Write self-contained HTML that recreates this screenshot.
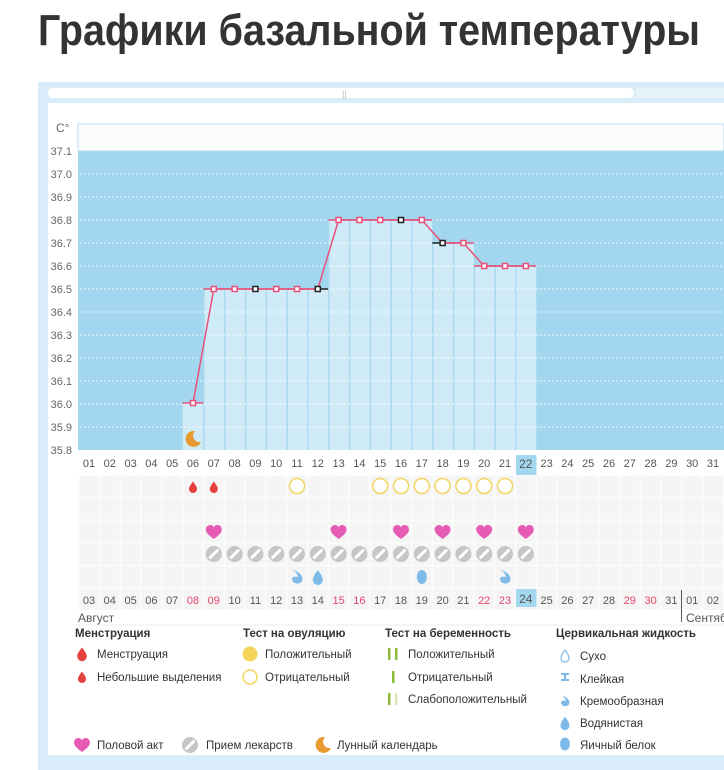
<!DOCTYPE html>
<html><head><meta charset="utf-8"><style>
html,body{margin:0;padding:0;background:#fff;width:724px;height:770px;overflow:hidden}
svg{display:block}
text{font-family:"Liberation Sans","DejaVu Sans",sans-serif}
</style></head><body>
<svg width="724" height="770" viewBox="0 0 724 770" xmlns="http://www.w3.org/2000/svg">
<defs>
<pattern id="cells" x="78.6" y="475" width="20.8" height="22.6" patternUnits="userSpaceOnUse">
<rect x="0" y="0" width="20.8" height="22.6" fill="#fcfcfc"/>
<rect x="0.8" y="0.8" width="19.2" height="21" fill="#f5f5f5"/>
</pattern>
<path id="drop" d="M0,-5.5 C2.5,-2 4,0 4,2 A4,4 0 0 1 -4,2 C-4,0 -2.5,-2 0,-5.5Z"/>
<path id="heart" d="M0,7 C-4,4 -8,1 -8,-2.5 C-8,-5.5 -5.5,-7 -3.5,-7 C-2,-7 -0.7,-6 0,-4.8 C0.7,-6 2,-7 3.5,-7 C5.5,-7 8,-5.5 8,-2.5 C8,1 4,4 0,7Z" fill="#e65cb4"/>
<g id="pill"><circle r="8" fill="#c6c6c6"/><line x1="-3.5" y1="3.5" x2="3.5" y2="-3.5" stroke="#fff" stroke-width="3" stroke-linecap="round"/></g>
<path id="moon" d="M2,-8 A8,8 0 1 0 8,3 A6.5,6.5 0 0 1 2,-8Z" fill="#e79a2f"/>
<path id="cream" d="M-4,-7 C3,-5 7,0 5,4 C3,8 -5,7 -5,2 C-5,0 -2,-1 1,0 C1,-2 -1,-5 -4,-7Z" fill="#7fbbe8"/>
<path id="water" d="M0,-7 C3,-3 5,0 5,3 A5,5 0 0 1 -5,3 C-5,0 -3,-3 0,-7Z" fill="#7fbbe8"/>
</defs>

<text x="38" y="45" font-size="44" font-weight="bold" fill="#333" textLength="662" lengthAdjust="spacingAndGlyphs">Графики базальной температуры</text>

<rect x="38" y="82" width="686" height="688" fill="#d8edf9"/>
<rect x="48" y="88" width="586" height="10" rx="5" fill="#fff"/>
<rect x="636" y="88" width="88" height="10" fill="#e6f3fb"/>
<text x="342" y="97" font-size="9" fill="#bbb">||</text>
<rect x="48" y="103" width="676" height="652" fill="#fff"/>

<rect x="78" y="124" width="646" height="27" fill="#fcfcfc" stroke="#b9e0f3" stroke-width="1"/>
<rect x="78" y="151" width="646" height="299" fill="#a3d7ef"/>
<g fill="#d0ebf8">
<rect x="182.6" y="403" width="20.8" height="47"/>
<rect x="203.4" y="289" width="124.8" height="161"/>
<rect x="328.2" y="220" width="104" height="230"/>
<rect x="432.2" y="243" width="41.6" height="207"/>
<rect x="473.8" y="266" width="62.4" height="184"/>
</g>
<g stroke="#aad9ef" stroke-width="1.5">
<line x1="204" y1="289" x2="204" y2="450"/><line x1="224.8" y1="289" x2="224.8" y2="450"/>
<line x1="245.6" y1="289" x2="245.6" y2="450"/><line x1="266.4" y1="289" x2="266.4" y2="450"/>
<line x1="287.2" y1="289" x2="287.2" y2="450"/><line x1="308" y1="289" x2="308" y2="450"/>
<line x1="328.8" y1="220" x2="328.8" y2="450"/><line x1="349.6" y1="220" x2="349.6" y2="450"/>
<line x1="370.4" y1="220" x2="370.4" y2="450"/><line x1="391.2" y1="220" x2="391.2" y2="450"/>
<line x1="412" y1="220" x2="412" y2="450"/><line x1="432.8" y1="243" x2="432.8" y2="450"/>
<line x1="453.6" y1="243" x2="453.6" y2="450"/><line x1="474.4" y1="266" x2="474.4" y2="450"/>
<line x1="495.2" y1="266" x2="495.2" y2="450"/><line x1="516" y1="266" x2="516" y2="450"/>
</g>
<g stroke="#fff" stroke-width="1" stroke-dasharray="2,2" opacity="0.8">
<line x1="80" y1="174" x2="724" y2="174"/><line x1="80" y1="197" x2="724" y2="197"/>
<line x1="80" y1="220" x2="724" y2="220"/><line x1="80" y1="243" x2="724" y2="243"/>
<line x1="80" y1="266" x2="724" y2="266"/><line x1="80" y1="289" x2="724" y2="289"/>
<line x1="80" y1="312" x2="724" y2="312"/><line x1="80" y1="335" x2="724" y2="335"/>
<line x1="80" y1="358" x2="724" y2="358"/><line x1="80" y1="381" x2="724" y2="381"/>
<line x1="80" y1="404" x2="724" y2="404"/><line x1="80" y1="427" x2="724" y2="427"/>
</g>
<g font-size="11" fill="#666" text-anchor="end">
<text x="72" y="155">37.1</text><text x="72" y="178">37.0</text><text x="72" y="201">36.9</text>
<text x="72" y="224">36.8</text><text x="72" y="247">36.7</text><text x="72" y="270">36.6</text>
<text x="72" y="293">36.5</text><text x="72" y="316">36.4</text><text x="72" y="339">36.3</text>
<text x="72" y="362">36.2</text><text x="72" y="385">36.1</text><text x="72" y="408">36.0</text>
<text x="72" y="431">35.9</text><text x="72" y="454">35.8</text>
</g>
<text x="56" y="132" font-size="12" fill="#666">C°</text>

<g stroke="#e8507a" stroke-width="1.5">
<line x1="182.6" y1="403" x2="203.4" y2="403"/>
<line x1="203.4" y1="289" x2="317.8" y2="289"/>
<line x1="328.2" y1="220" x2="432.2" y2="220"/>
<line x1="442.6" y1="243" x2="473.8" y2="243"/>
<line x1="473.8" y1="266" x2="536.2" y2="266"/>
</g>
<g stroke="#222" stroke-width="1.5">
<line x1="317.8" y1="289" x2="328.2" y2="289"/>
<line x1="432.2" y1="243" x2="442.6" y2="243"/>
</g>
<polyline fill="none" stroke="#e8507a" stroke-width="1.5" points="193,403 213.8,289 317.8,289 338.6,220 421.8,220 442.6,243 463.4,243 484.2,266 525.8,266"/>
<g fill="#fff" stroke="#e8507a" stroke-width="1.5">
<rect x="190.5" y="400.5" width="5" height="5"/><rect x="211.3" y="286.5" width="5" height="5"/>
<rect x="232.1" y="286.5" width="5" height="5"/><rect x="273.7" y="286.5" width="5" height="5"/>
<rect x="294.5" y="286.5" width="5" height="5"/><rect x="336.1" y="217.5" width="5" height="5"/>
<rect x="356.9" y="217.5" width="5" height="5"/><rect x="377.7" y="217.5" width="5" height="5"/>
<rect x="419.3" y="217.5" width="5" height="5"/><rect x="460.9" y="240.5" width="5" height="5"/>
<rect x="481.7" y="263.5" width="5" height="5"/><rect x="502.5" y="263.5" width="5" height="5"/>
<rect x="523.3" y="263.5" width="5" height="5"/>
</g>
<g fill="#fff" stroke="#222" stroke-width="1.5">
<rect x="252.9" y="286.5" width="5" height="5"/><rect x="315.3" y="286.5" width="5" height="5"/>
<rect x="398.5" y="217.5" width="5" height="5"/><rect x="440.1" y="240.5" width="5" height="5"/>
</g>
<use href="#moon" x="193" y="439"/>

<rect x="516" y="455" width="20.5" height="20" fill="#a3d7ef"/>
<g font-size="11" fill="#555" text-anchor="middle">
<text x="89" y="467">01</text><text x="109.8" y="467">02</text><text x="130.6" y="467">03</text><text x="151.4" y="467">04</text><text x="172.2" y="467">05</text><text x="193" y="467">06</text><text x="213.8" y="467">07</text><text x="234.6" y="467">08</text><text x="255.4" y="467">09</text><text x="276.2" y="467">10</text><text x="297" y="467">11</text><text x="317.8" y="467">12</text><text x="338.6" y="467">13</text><text x="359.4" y="467">14</text><text x="380.2" y="467">15</text><text x="401" y="467">16</text><text x="421.8" y="467">17</text><text x="442.6" y="467">18</text><text x="463.4" y="467">19</text><text x="484.2" y="467">20</text><text x="505" y="467">21</text><text x="525.8" y="468" font-size="12">22</text><text x="546.6" y="467">23</text><text x="567.4" y="467">24</text><text x="588.2" y="467">25</text><text x="609" y="467">26</text><text x="629.8" y="467">27</text><text x="650.6" y="467">28</text><text x="671.4" y="467">29</text><text x="692.2" y="467">30</text><text x="713" y="467">31</text>
</g>

<rect x="78.6" y="475" width="645.4" height="135" fill="url(#cells)"/>
<g fill="#e5413e"><use href="#drop" x="193" y="487"/><use href="#drop" x="213.8" y="487"/></g>
<g fill="#fff" stroke="#f3d561" stroke-width="1.5">
<circle cx="297" cy="486" r="7.5"/><circle cx="380.2" cy="486" r="7.5"/><circle cx="401" cy="486" r="7.5"/><circle cx="421.8" cy="486" r="7.5"/><circle cx="442.6" cy="486" r="7.5"/><circle cx="463.4" cy="486" r="7.5"/><circle cx="484.2" cy="486" r="7.5"/><circle cx="505" cy="486" r="7.5"/>
</g>
<use href="#heart" x="213.8" y="532"/><use href="#heart" x="338.6" y="532"/><use href="#heart" x="401" y="532"/><use href="#heart" x="442.6" y="532"/><use href="#heart" x="484.2" y="532"/><use href="#heart" x="525.8" y="532"/>
<use href="#pill" x="213.8" y="554"/><use href="#pill" x="234.6" y="554"/><use href="#pill" x="255.4" y="554"/><use href="#pill" x="276.2" y="554"/><use href="#pill" x="297" y="554"/><use href="#pill" x="317.8" y="554"/><use href="#pill" x="338.6" y="554"/><use href="#pill" x="359.4" y="554"/><use href="#pill" x="380.2" y="554"/><use href="#pill" x="401" y="554"/><use href="#pill" x="421.8" y="554"/><use href="#pill" x="442.6" y="554"/><use href="#pill" x="463.4" y="554"/><use href="#pill" x="484.2" y="554"/><use href="#pill" x="505" y="554"/><use href="#pill" x="525.8" y="554"/>
<use href="#cream" x="297" y="577"/><use href="#water" x="317.8" y="577"/>
<ellipse cx="421.8" cy="577" rx="5" ry="7" fill="#7fbbe8"/><use href="#cream" x="505" y="577"/>

<rect x="516" y="589" width="20.5" height="18" fill="#a3d7ef"/>
<g font-size="11" fill="#555" text-anchor="middle">
<text x="89" y="604">03</text><text x="109.8" y="604">04</text><text x="130.6" y="604">05</text><text x="151.4" y="604">06</text><text x="172.2" y="604">07</text><text x="193" y="604" fill="#e5456a">08</text><text x="213.8" y="604" fill="#e5456a">09</text><text x="234.6" y="604">10</text><text x="255.4" y="604">11</text><text x="276.2" y="604">12</text><text x="297" y="604">13</text><text x="317.8" y="604">14</text><text x="338.6" y="604" fill="#e5456a">15</text><text x="359.4" y="604" fill="#e5456a">16</text><text x="380.2" y="604">17</text><text x="401" y="604">18</text><text x="421.8" y="604">19</text><text x="442.6" y="604">20</text><text x="463.4" y="604">21</text><text x="484.2" y="604" fill="#e5456a">22</text><text x="505" y="604" fill="#e5456a">23</text><text x="525.8" y="603" font-size="12">24</text><text x="546.6" y="604">25</text><text x="567.4" y="604">26</text><text x="588.2" y="604">27</text><text x="609" y="604">28</text><text x="629.8" y="604" fill="#e5456a">29</text><text x="650.6" y="604" fill="#e5456a">30</text><text x="671.4" y="604">31</text><text x="692.2" y="604">01</text><text x="713" y="604">02</text>
</g>
<line x1="681.5" y1="590" x2="681.5" y2="622" stroke="#555" stroke-width="1"/>
<text x="78" y="622" font-size="12" fill="#555">Август</text>
<text x="686" y="622" font-size="12" fill="#555">Сентябрь</text>
<line x1="78" y1="625" x2="724" y2="625" stroke="#eee"/>

<g font-size="11.5" font-weight="bold" fill="#333">
<text x="75" y="637">Менструация</text>
<text x="243" y="637">Тест на овуляцию</text>
<text x="385" y="637">Тест на беременность</text>
<text x="556" y="637">Цервикальная жидкость</text>
</g>
<g font-size="11.5" fill="#333">
<text x="97" y="658">Менструация</text>
<text x="97" y="681">Небольшие выделения</text>
<text x="265" y="658">Положительный</text>
<text x="265" y="681">Отрицательный</text>
<text x="408" y="658">Положительный</text>
<text x="408" y="681">Отрицательный</text>
<text x="408" y="703">Слабоположительный</text>
<text x="580" y="660">Сухо</text>
<text x="580" y="683">Клейкая</text>
<text x="580" y="705">Кремообразная</text>
<text x="580" y="727">Водянистая</text>
<text x="580" y="749">Яичный белок</text>
<text x="97" y="749">Половой акт</text>
<text x="206" y="749">Прием лекарств</text>
<text x="337" y="749">Лунный календарь</text>
</g>
<use href="#drop" x="82" y="654" fill="#e5413e" transform="translate(82 654) scale(1.2) translate(-82 -654)"/>
<use href="#drop" x="82" y="677" fill="#e5413e"/>
<circle cx="250" cy="654" r="7.5" fill="#f5d45c"/>
<circle cx="250" cy="677" r="7" fill="#fff" stroke="#f3d561" stroke-width="1.5"/>
<g fill="#8fbb3a">
<rect x="388" y="648" width="2.5" height="12"/><rect x="395" y="648" width="2.5" height="12"/>
<rect x="392" y="671" width="2.5" height="12"/>
<rect x="388" y="693" width="2.5" height="12"/><rect x="395" y="693" width="2.5" height="12" fill="#d9e9b8"/>
</g>
<path d="M565,650 C568,654 569,656 569,658 A4,4 0 0 1 561,658 C561,656 562,654 565,650Z" fill="#fff" stroke="#7fbbe8" stroke-width="1.2"/>
<path d="M561,673 H569 V675 H566 V679 H569 V681 H561 V679 H564 V675 H561Z" fill="#7fbbe8"/>
<use href="#cream" x="565" y="701" transform="translate(565 701) scale(0.8) translate(-565 -701)"/>
<use href="#water" x="565" y="723" transform="translate(565 723) scale(0.9) translate(-565 -723)"/>
<ellipse cx="565" cy="744" rx="5" ry="6.5" fill="#7fbbe8"/>
<use href="#heart" x="82" y="745"/>
<use href="#pill" x="190" y="745"/>
<use href="#moon" x="323" y="745"/>

<rect x="38" y="757" width="686" height="13" fill="#d8edf9"/>
</svg>
</body></html>
